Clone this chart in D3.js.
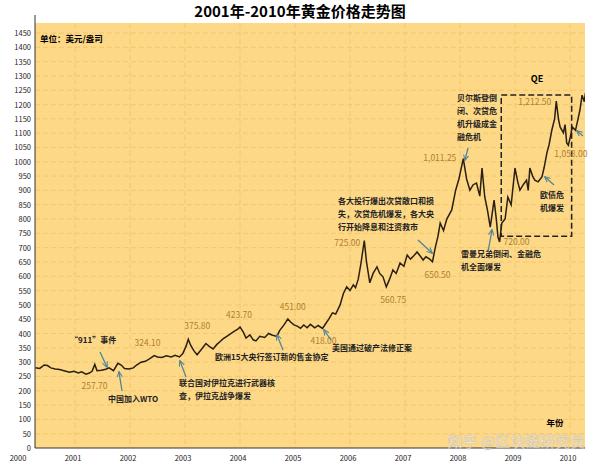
<!DOCTYPE html>
<html><head><meta charset="utf-8">
<script src="https://cdn.jsdelivr.net/npm/d3@7"></script>
<style>body{margin:0;background:#fff}text{font-family:"Noto Sans CJK SC","Noto Sans",sans-serif}</style>
</head><body><svg id="c" width="600" height="476"></svg>
<script>
const years = [0.28,0.36,0.44,0.5,0.56,0.64,0.72,0.8,0.9,0.98,1.06,1.12,1.2,1.26,1.31,1.36,1.4,1.48,1.56,1.62,1.7,1.78,1.84,1.9,1.98,2.06,2.12,2.2,2.28,2.36,2.44,2.5,2.58,2.66,2.75,2.82,2.9,2.96,3.02,3.06,3.1,3.16,3.22,3.3,3.38,3.44,3.51,3.58,3.64,3.69,3.76,3.82,3.9,3.96,4.0,4.06,4.11,4.18,4.24,4.29,4.36,4.45,4.52,4.58,4.67,4.72,4.8,4.87,4.92,4.98,5.05,5.1,5.16,5.22,5.28,5.36,5.42,5.5,5.56,5.62,5.68,5.74,5.82,5.88,5.94,6.0,6.06,6.1,6.15,6.2,6.26,6.3,6.36,6.42,6.49,6.54,6.6,6.66,6.72,6.78,6.84,6.91,6.98,7.04,7.1,7.16,7.22,7.28,7.33,7.38,7.45,7.5,7.55,7.6,7.64,7.7,7.76,7.85,7.92,7.98,8.06,8.12,8.18,8.24,8.3,8.36,8.4,8.45,8.5,8.55,8.62,8.66,8.69,8.72,8.76,8.82,8.87,8.93,9.0,9.05,9.09,9.15,9.21,9.24,9.27,9.32,9.36,9.42,9.49,9.53,9.58,9.62,9.67,9.72,9.75,9.79,9.82,9.88,9.91,9.94,9.97,10.01,10.04,10.1,10.13,10.18,10.22,10.26,10.28];
const prices = [280,278,290,288,280,276,274,270,265,268,262,266,258,262,268,292,270,272,275,280,270,296,290,278,276,280,290,300,303,312,323,318,316,322,318,324,318,330,356,380,360,340,326,345,365,355,346,362,372,381,390,398,408,415,423,405,384,395,378,374,390,386,400,395,390,410,430,451,440,430,425,418,430,420,432,420,428,418,435,452,472,468,500,540,563,550,570,560,590,646,725,650,577,610,633,610,598,563,590,622,610,646,635,674,660,672,685,670,657,668,660,651,700,740,786,760,800,832,900,940,1011,940,901,920,926,880,978,877,830,772,866,800,737,720,786,800,877,850,978,930,901,920,936,900,978,950,936,930,947,980,1031,1060,1111,1150,1212,1150,1122,1101,1130,1066,1058,1090,1122,1110,1136,1180,1233,1210,1240];
const yearLabels = ["2000","2001","2002","2003","2004","2005","2006","2007","2008","2009","2010"];
const yTicks = d3.range(0,1451,50);
const priceNotes = [["257.70",1.3,262],["324.10",2.3,323],["375.80",3.06,380],["423.70",4.0,423],["451.00",4.87,451],["418.00",5.5,418],["725.00",6.26,725],["560.75",6.66,563],["650.50",7.5,651],["1,011.25",8.06,1011],["720.00",8.72,720],["1,212.50",9.75,1212],["1,058.00",9.97,1058]];
const noteOffsets = [[-10,16],[-12,-10],[-4,-10],[-14,-9],[-8,-9],[-12,16],[-30,5],[-6,16],[-8,16],[-40,2],[4,3],[-38,4],[-14,12]];
const events = [
 {lines:["“911”事件"],x:70,y:343,a:[100,352,107,367]},
 {lines:["中国加入WTO"],x:108,y:402,a:[122,391,119,372]},
 {lines:["联合国对伊拉克进行武器核","查，伊拉克战争爆发"],x:179,y:386,a:[186,377,180,361]},
 {lines:["欧洲15大央行签订新的售金协定"],x:215,y:360,a:[283,350,277,335]},
 {lines:["美国通过破产法修正案"],x:332,y:351,a:[331,340,324,330]},
 {lines:["各大投行爆出次贷敞口和损","失，次贷危机爆发，各大央","行开始降息和注资救市"],x:338,y:204,a:[418,240,432,253]},
 {lines:["贝尔斯登倒","闭、次贷危","机升级成金","融危机"],x:457,y:101,a:[468,148,465,160]},
 {lines:["雷曼兄弟倒闭、金融危","机全面爆发"],x:461,y:257,a:[488,252,492,230]},
 {lines:["欧债危","机爆发"],x:540,y:198,a:[554,185,545,177]},
 {lines:[],x:0,y:0,a:[583,136,577,131]}
];
const svg = d3.select("#c");
const L=35,R=585,T=23,B=448;
const x = d3.scaleLinear().domain([0,10]).range([20,570]);
const y = d3.scaleLinear().domain([0,1450]).range([B,B-1450*0.2862]);
svg.append("defs").append("clipPath").attr("id","cp").append("rect").attr("x",L).attr("y",T).attr("width",R-L).attr("height",B-T);
svg.append("defs").append("marker").attr("id","ar").attr("viewBox","0 0 10 10").attr("refX",8).attr("refY",5).attr("markerWidth",5).attr("markerHeight",5).attr("orient","auto").append("path").attr("d","M0,1L9,5L0,9").attr("fill","none").attr("stroke","#4f8597").attr("stroke-width",1.6);
svg.append("rect").attr("x",L).attr("y",T).attr("width",R-L).attr("height",B-T).attr("fill","#fdd887");
const g = svg.append("g").attr("clip-path","url(#cp)");
g.selectAll(".h").data(yTicks.slice(1)).join("line").attr("x1",L).attr("x2",R).attr("y1",d=>y(d)).attr("y2",d=>y(d)).attr("stroke","#efc46a").attr("stroke-dasharray","5,3").attr("stroke-width",0.8);
g.selectAll(".v").data(yearLabels.slice(1)).join("line").attr("x1",(d,i)=>x(i+1)).attr("x2",(d,i)=>x(i+1)).attr("y1",T).attr("y2",B).attr("stroke","#efc46a").attr("stroke-dasharray","5,3").attr("stroke-width",0.8);
svg.append("line").attr("x1",L).attr("x2",L).attr("y1",T-8).attr("y2",B).attr("stroke","#333");
svg.append("line").attr("x1",L).attr("x2",R).attr("y1",B).attr("y2",B).attr("stroke","#333");
svg.append("g").selectAll("text").data(yTicks).join("text").attr("x",31).attr("y",d=>y(d)+3).attr("text-anchor","end").attr("font-size",7.5).attr("fill","#222").text(d=>d);
svg.append("g").selectAll("text").data(yearLabels).join("text").attr("x",(d,i)=>x(i)-2).attr("y",461).attr("text-anchor","middle").attr("font-size",7.5).attr("fill","#222").text(d=>d);
const pts = years.map((d,i)=>[d,prices[i]]);
g.append("path").datum(pts).attr("d",d3.line().x(d=>x(d[0])).y(d=>y(d[1]))).attr("fill","none").attr("stroke","#2a1f10").attr("stroke-width",1.5);
svg.append("rect").attr("x",x(8.75)).attr("y",y(1233)).attr("width",x(10.03)-x(8.75)).attr("height",y(740)-y(1233)).attr("fill","none").attr("stroke","#222").attr("stroke-width",1.5).attr("stroke-dasharray","6,3");
svg.append("text").attr("x",537).attr("y",82).attr("text-anchor","middle").attr("font-size",9).attr("font-weight","bold").text("QE");
svg.append("g").selectAll("text").data(priceNotes).join("text").attr("x",(d,i)=>x(d[1])+noteOffsets[i][0]).attr("y",(d,i)=>y(d[2])+noteOffsets[i][1]).attr("font-size",8.5).attr("fill","#b0802f").text(d=>d[0]);
events.forEach(e=>{
  e.lines.forEach((l,i)=>svg.append("text").attr("x",e.x).attr("y",e.y+i*13).attr("font-size",8).attr("font-weight","bold").attr("fill","#222").text(l));
  svg.append("line").attr("x1",e.a[0]).attr("y1",e.a[1]).attr("x2",e.a[2]).attr("y2",e.a[3]).attr("stroke","#4f8597").attr("stroke-width",1.3).attr("marker-end","url(#ar)");
});
svg.append("text").attr("x",40).attr("y",42).attr("font-size",8.5).attr("font-weight","bold").text("单位：美元/盎司");
svg.append("text").attr("x",555).attr("y",426).attr("text-anchor","middle").attr("font-size",8.5).attr("font-weight","bold").text("年份");
svg.append("text").attr("x",585).attr("y",447).attr("text-anchor","end").attr("font-size",15).attr("fill","#ffffff").attr("opacity",0.75).attr("stroke","#bbb").attr("stroke-width",0.5).text("知乎 @区块链研究员");
svg.append("text").attr("x",300).attr("y",17).attr("text-anchor","middle").attr("font-size",15).attr("font-weight","bold").text("2001年-2010年黄金价格走势图");
</script></body></html>
